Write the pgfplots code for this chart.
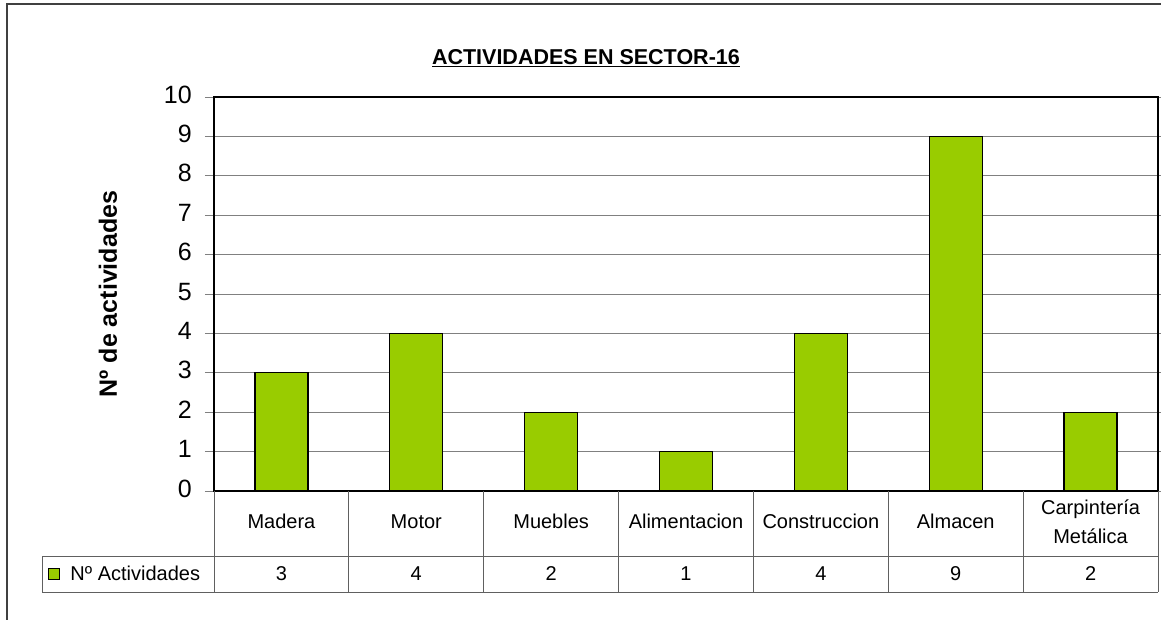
\documentclass[border=0pt]{standalone}
\usepackage{pgfplots}
\pgfplotsset{compat=1.18}
\usepackage{fontspec}
\setmainfont{Liberation Sans}

\definecolor{barGreen}{HTML}{99CC00}
\definecolor{gridGray}{HTML}{808080}
\definecolor{lineGray}{HTML}{606060}
\newcommand{\tfont}{\fontsize{20}{29}\selectfont}

\begin{document}
\begin{tikzpicture}[x=1pt,y=1pt]
\path[use as bounding box] (0,0) rectangle (1161,-619);
% chart frame (only left and top visible)
\draw[black!75, line width=1.5pt] (7,-630) -- (7,-4) -- (1175,-4);

\begin{axis}[
  at={(214pt,-97pt)}, anchor=north west,
  width=944pt, height=394pt, scale only axis,
  xmin=-0.5, xmax=6.5, ymin=0, ymax=10,
  ybar, bar width=53pt,
  clip=false,
  axis line style={black, line width=1.3pt},
  ytick={0,...,10},
  ymajorgrids,
  grid style={gridGray, line width=1pt},
  tick align=outside,
  ytick style={gridGray, line width=1pt},
  major tick length=9pt,
  xtick={0,...,6},
  xtick style={draw=none},
  xticklabels={Madera,Motor,Muebles,Alimentacion,Construccion,Almacen,{Carpintería\\Metálica\strut}},
  xticklabel style={anchor=center, inner sep=0pt, yshift=-23pt, align=center, font=\tfont},
  typeset ticklabels with strut,
  extra x ticks={0,...,6},
  extra x tick labels={3,4,2,1,4,9,2},
  extra x tick style={xtick style={draw=none}, xticklabel style={yshift=-52pt}},
  /pgf/number format/assume math mode=true,
  yticklabel style={anchor=east, inner sep=0pt, xshift=-13pt, font=\fontsize{25}{30}\selectfont},
  ylabel={Nº de actividades},
  ylabel style={at={(axis description cs:-0.1123,0.5)}, anchor=center, font=\fontsize{25}{30}\bfseries\selectfont},
  title={\underline{ACTIVIDADES EN SECTOR-16}},
  title style={at={(axis description cs:0.394,1.084)}, anchor=center, font=\fontsize{21.5}{25}\bfseries\selectfont},
  legend style={at={(axis description cs:-0.1758,-0.2107)}, anchor=west, draw=none, fill=none, inner sep=0pt, font=\tfont},
  legend image code/.code={\draw[fill=barGreen, draw=black, line width=1.2pt] (0pt,-5.5pt) rectangle (11pt,5.5pt); \path (19pt,0pt);},
]
\addplot[fill=barGreen, draw=black, line width=1.3pt] coordinates {
  (0,3) (1,4) (2,2) (3,1) (4,4) (5,9) (6,2)
};
\addlegendentry{Nº Actividades}
\end{axis}

% data table grid
\draw[lineGray, line width=1pt] (42,-556) -- (1158,-556);
\draw[lineGray, line width=1pt] (42,-592) -- (1158,-592);
\draw[lineGray, line width=1pt] (42,-556) -- (42,-592);
\foreach \k in {0,...,7} {
  \draw[lineGray, line width=1pt] (214+\k*134.857,-491) -- (214+\k*134.857,-592);
}
\end{tikzpicture}
\end{document}
